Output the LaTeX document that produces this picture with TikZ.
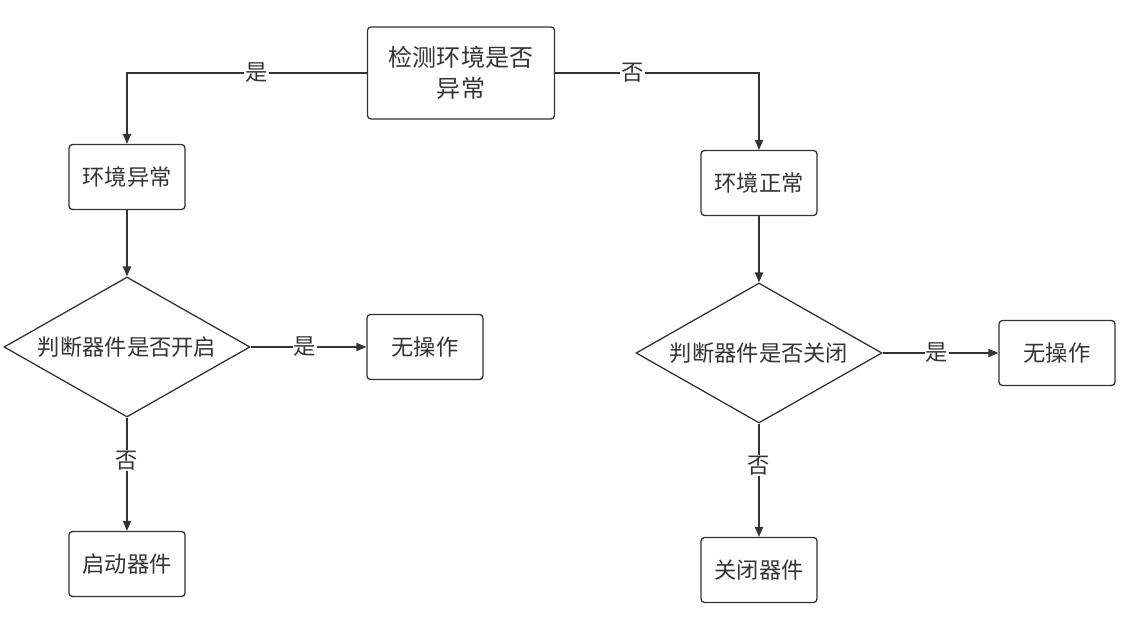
\documentclass[tikz,border=0pt]{standalone}
\usepackage{fontspec}
\setmainfont{Noto Sans CJK SC}
\usepackage{xcolor}
\usetikzlibrary{shapes.geometric,arrows.meta,positioning}
\definecolor{FlowInk}{RGB}{51,51,51}

\begin{document}
\begin{tikzpicture}[
  x=0.03cm, y=-0.03cm,
  box/.style={rectangle, rounded corners=3pt, minimum width=3.48cm, minimum height=1.95cm,
              align=center, font=\fontsize{19}{24}\selectfont, draw=FlowInk, line width=1.1pt, text=FlowInk},
  decision/.style={diamond, shape aspect=1.757, minimum width=7.38cm, minimum height=4.2cm, inner sep=1pt,
              align=center, font=\fontsize{19}{24}\selectfont, draw=FlowInk, line width=1.1pt, text=FlowInk},
  arrow/.style={-{Triangle[length=8.5pt,width=7pt]}, line width=1.1pt, FlowInk},
  lbl/.style={fill=white, inner sep=1pt, font=\fontsize{19}{24}\selectfont, text=FlowInk}
]
\useasboundingbox (0,0) rectangle (1147,625);
% top check
\node[box, minimum width=5.61cm, minimum height=2.76cm, font=\fontsize{20.5}{27}\selectfont] (check) at (461,73) {检测环境是否\\异常};
% left branch
\node[box] (abnormal) at (127,177) {环境异常};
\node[decision] (isopen) at (127,347) {判断器件是否开启};
\node[box] (noopL) at (425,347) {无操作};
\node[box] (start) at (127,564) {启动器件};
% right branch
\node[box] (normal) at (759,183) {环境正常};
\node[decision] (isclosed) at (759,353) {判断器件是否关闭};
\node[box] (noopR) at (1057,353) {无操作};
\node[box] (close) at (759,570) {关闭器件};

\draw[arrow] (check.west) -| node[lbl, pos=0.23] {是} (abnormal.north);
\draw[arrow] (check.east) -| node[lbl, pos=0.19] {否} (normal.north);
\draw[arrow] (abnormal) -- (isopen);
\draw[arrow] (isopen.east) -- node[lbl, pos=0.47] {是} (noopL.west);
\draw[arrow] (isopen.south) -- node[lbl, pos=0.38] {否} (start.north);
\draw[arrow] (normal) -- (isclosed);
\draw[arrow] (isclosed.east) -- node[lbl, pos=0.47] {是} (noopR.west);
\draw[arrow] (isclosed.south) -- node[lbl, pos=0.37] {否} (close.north);
\end{tikzpicture}
\end{document}
